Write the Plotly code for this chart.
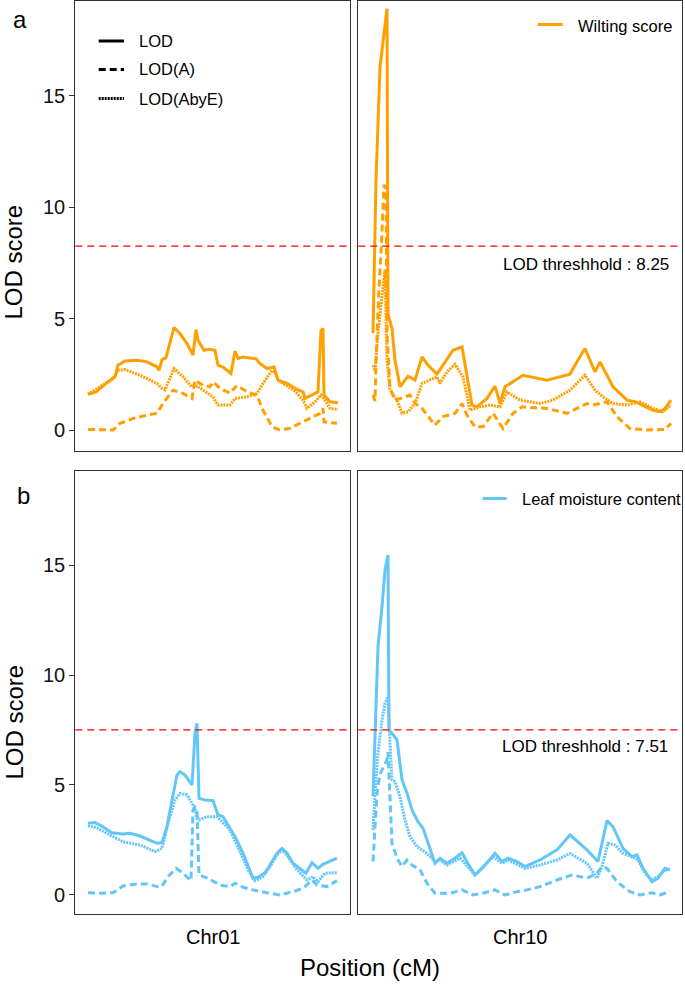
import plotly.graph_objects as go

W, H = 685, 990

# ---------------- data (position in cM, LOD scores) ----------------
# Panel a: Wilting score, Chr01
wilt_chr01_lod_cm = [0, 4, 9, 13.5, 15, 18.5, 24.5, 29.5, 34.5, 35.5, 37, 39, 43, 46, 49.5, 52.5, 54, 55, 58, 60.5, 63.5,
                     65, 67.5, 71.5, 73.5, 75, 77.5, 84, 86, 89.5, 93, 95, 99.5, 103.5, 107.5, 108.5, 115, 116.5, 117.5,
                     118, 121, 125]
wilt_chr01_lod = [1.60, 1.71, 2.09, 2.39, 2.91, 3.10, 3.13, 3.06, 2.83, 2.68, 3.16, 3.25, 4.60, 4.33, 3.88, 3.36, 4.50,
                  4.03, 3.58, 3.62, 3.58, 2.91, 2.83, 2.54, 3.55, 3.21, 3.28, 3.20, 2.98, 2.76, 2.83, 2.24, 2.09, 1.87,
                  1.71, 1.42, 1.71, 4.47, 4.55, 1.57, 1.27, 1.22]
wilt_chr01_a_cm = [0, 6, 12.5, 16, 22.5, 29.5, 34.5, 37.5, 42.5, 47.5, 52, 53.5, 57.5, 61, 62.5, 66, 71, 74.5, 79.5,
                   84.5, 87.5, 92, 96, 101, 107.5, 113.5, 116, 117.5, 118, 124.5]
wilt_chr01_a = [0.03, 0.00, 0.00, 0.30, 0.52, 0.67, 0.75, 1.19, 1.79, 1.64, 1.42, 2.24, 2.01, 1.94, 2.16, 1.87, 1.65,
                2.00, 1.72, 1.55, 0.89, 0.15, 0.00, 0.08, 0.37, 0.67, 0.75, 0.97, 0.37, 0.30]
wilt_chr01_ae_cm = [0, 12.5, 15, 18.5, 26, 34.5, 37, 38.5, 43, 47.5, 52, 54.5, 57.5, 62.5, 65, 71, 73.5, 79.5, 84.5,
                    87.5, 92, 93.5, 95, 103.5, 107.5, 109.5, 113.5, 116.5, 118.5, 121, 125]
wilt_chr01_ae = [1.60, 2.31, 2.68, 2.72, 2.46, 2.09, 1.87, 1.80, 2.76, 2.39, 1.94, 1.98, 1.79, 1.49, 1.12, 1.12, 1.42,
                 1.49, 1.64, 2.09, 2.68, 2.60, 2.24, 1.75, 1.34, 0.97, 1.27, 1.57, 1.34, 0.97, 0.92]

# Panel a: Wilting score, Chr10
wilt_chr10_lod_cm = [0, 1.5, 3.5, 6, 7, 7.5, 9.5, 11, 13.5, 17.5, 21, 24.5, 27.5, 32, 37, 40, 44.5, 49.5, 52, 57, 61,
                     63.5, 66, 70, 75, 87, 93.5, 98.5, 102, 106, 111, 113.5, 120, 127, 131, 140, 143.5, 146, 149]
wilt_chr10_lod = [4.34, 11.2, 16.3, 18.0, 18.9, 5.2, 4.55, 3.13, 1.94, 2.42, 2.24, 3.28, 2.91, 2.51, 3.20, 3.58, 3.73,
                  1.12, 1.04, 1.42, 1.97, 1.19, 1.94, 2.16, 2.46, 2.24, 2.39, 2.51, 3.06, 3.66, 2.61, 3.06, 1.94, 1.34,
                  1.27, 0.89, 0.82, 0.97, 1.34]
wilt_chr10_a_cm = [0, 1, 1.5, 2.7, 4.3, 5.5, 6.5, 7, 8.5, 11, 16, 18.5, 21, 24.5, 31, 35, 41, 44.5, 47, 51, 55, 60, 65,
                   70, 74.5, 87, 97, 107, 110, 117, 122, 128.5, 137, 146, 149]
wilt_chr10_a = [1.57, 1.30, 3.0, 5.8, 8.5, 11.0, 10.8, 4.3, 1.88, 1.34, 1.49, 1.57, 1.20, 0.97, 0.22, 0.60, 0.75, 1.19,
                0.67, 0.15, 0.15, 0.75, 0.07, 0.75, 1.04, 0.97, 0.75, 1.19, 1.12, 1.27, 0.60, 0.07, 0.00, 0.03, 0.30]
wilt_chr10_ae_cm = [0, 1, 2.5, 4.5, 6, 7, 8.5, 12, 14.5, 17.5, 21, 24.5, 32, 33.5, 37, 41, 45, 48.5, 53.5, 58.5, 63.5,
                    67, 73.5, 83.5, 90, 98.5, 106, 111, 115, 120, 127, 133.5, 140, 145, 149]
wilt_chr10_ae = [2.91, 2.68, 4.33, 5.82, 7.2, 3.13, 1.79, 1.34, 0.75, 0.82, 1.19, 2.09, 2.39, 2.09, 2.61, 2.95, 2.39,
                 0.89, 1.04, 1.12, 1.04, 1.71, 1.34, 1.19, 1.34, 1.79, 2.46, 1.79, 1.49, 1.19, 1.12, 1.27, 0.97, 0.82,
                 1.12]

# Panel b: Leaf moisture content, Chr01
leaf_chr01_lod_cm = [0, 3.5, 7.5, 12, 17.5, 21, 26, 31, 34.5, 37, 39.5, 42, 44.5, 46, 48.5, 52, 53.5, 54.5, 55.5, 58.5,
                     62.5, 65, 67.5, 70, 73.5, 77.5, 80, 82.5, 85, 88.5, 91, 94.5, 97, 99.5, 102.5, 106, 109, 112, 115,
                     117.5, 124.5]
leaf_chr01_lod = [3.26, 3.29, 3.10, 2.83, 2.77, 2.80, 2.68, 2.50, 2.35, 2.38, 3.10, 4.32, 5.45, 5.60, 5.45, 5.00, 7.35,
                  7.80, 4.39, 4.32, 4.29, 3.64, 3.56, 3.18, 2.65, 1.90, 1.29, 0.76, 0.80, 1.01, 1.36, 1.90, 2.12, 1.90,
                  1.44, 1.21, 0.99, 1.47, 1.21, 1.39, 1.67]
leaf_chr01_a_cm = [0, 6, 12.5, 17.5, 24.5, 29.5, 34.5, 37, 40, 44, 47.5, 51.5, 52.5, 53.5, 54.5, 55.5, 60, 66, 71, 73.5,
                   77.5, 82.5, 89.5, 96, 102.5, 107.5, 112, 114.5, 119.5, 124.5]
leaf_chr01_a = [0.10, 0.08, 0.10, 0.41, 0.50, 0.50, 0.38, 0.40, 0.83, 1.21, 0.99, 0.65, 3.86, 4.00, 3.90, 0.91, 0.76,
                0.45, 0.38, 0.53, 0.35, 0.23, 0.10, 0.00, 0.15, 0.30, 0.68, 0.45, 0.38, 0.65]
leaf_chr01_ae_cm = [0, 4.5, 11, 17.5, 26, 33.5, 37, 40, 43.5, 46, 49.5, 52, 53.5, 54.5, 55.5, 59.5, 64.5, 67, 71, 76, 80,
                    83.5, 87.5, 91, 94.5, 97, 100, 104.5, 109.5, 112.5, 115, 118.5, 124.5]
leaf_chr01_ae = [3.15, 3.05, 2.73, 2.42, 2.27, 1.97, 2.12, 3.26, 4.32, 4.62, 4.55, 4.17, 3.94, 3.48, 3.41, 3.56, 3.56,
                 3.33, 2.95, 1.97, 1.14, 0.65, 0.83, 1.29, 1.82, 2.05, 1.74, 1.14, 0.68, 0.83, 0.60, 0.99, 1.01]

# Panel b: Leaf moisture content, Chr10
leaf_chr10_lod_cm = [0, 2.5, 4.5, 6, 7.5, 8, 9.5, 12, 14.5, 17, 19.5, 22.5, 25, 28.5, 31, 33.5, 37, 41, 44.5, 47, 51,
                     54.5, 61, 64.5, 67.5, 72, 76, 83.5, 92, 98.5, 107, 112.5, 117, 120, 125, 129.5, 132, 135, 139.5,
                     142.5, 146, 148.5]
leaf_chr10_lod = [4.50, 11.29, 13.10, 14.77, 15.45, 7.50, 7.35, 7.05, 5.23, 4.62, 3.86, 3.33, 3.03, 2.05, 1.44, 1.67,
                  1.44, 1.67, 1.92, 1.50, 0.91, 1.20, 1.89, 1.52, 1.67, 1.52, 1.29, 1.59, 2.05, 2.73, 2.05, 1.52, 3.38,
                  3.10, 2.12, 1.74, 1.82, 1.21, 0.60, 0.76, 1.21, 1.14]
leaf_chr10_a_cm = [0, 2, 3.5, 7, 7.5, 8.5, 9.5, 12, 14.5, 17, 19.5, 23.5, 27, 31, 38.5, 44.5, 50, 55, 61, 66, 72, 77,
                   83.5, 92, 99.5, 107, 112, 114.5, 117, 122, 128.5, 133.5, 139.5, 143.5, 148.5]
leaf_chr10_a = [1.52, 4.62, 5.50, 6.14, 6.50, 4.62, 2.35, 1.67, 1.29, 1.59, 1.36, 1.14, 0.53, 0.08, 0.08, 0.23, 0.00,
                0.08, 0.23, 0.00, 0.15, 0.23, 0.38, 0.68, 0.91, 0.76, 0.99, 1.29, 1.21, 0.60, 0.15, 0.00, 0.10, 0.00,
                0.15]
leaf_chr10_ae_cm = [0, 1, 2.5, 4.5, 6, 7.5, 8.5, 9.5, 11, 13.5, 16, 18.5, 22, 27, 31, 33.5, 37, 43.5, 51, 60, 64.5, 67.5,
                    76, 83.5, 92, 98.5, 107, 112, 114.5, 117.5, 121, 125, 129.5, 132.5, 136, 139.5, 142.5, 146, 148.5]
leaf_chr10_ae = [2.95, 4.62, 6.44, 7.95, 8.71, 9.00, 6.89, 5.23, 5.15, 4.47, 3.41, 2.65, 2.20, 1.89, 1.52, 1.59, 1.36,
                 1.67, 0.91, 1.74, 1.44, 1.59, 1.21, 1.36, 1.59, 1.89, 1.44, 0.76, 1.29, 2.35, 2.27, 1.89, 1.74, 1.59,
                 0.99, 0.68, 0.83, 1.14, 1.14]

thresholds = [8.25, 7.51]
chromosomes = ["Chr01", "Chr10"]
traits = ["Wilting score", "Leaf moisture content"]
series_names = ["LOD", "LOD(A)", "LOD(AbyE)"]

# ---------------- style ----------------
ORANGE = "#FFA000"
BLUE = "#62C6F8"
FONT = "Liberation Sans, Arial, Helvetica, sans-serif"
DASHES = ["solid", "7px,4px", "2px,1px"]
LW = 3


def px_x(p):
    return p / W


def px_y(p):
    return 1 - p / H


fig = go.Figure()

panels = [
    ("x", "y", ORANGE, [(wilt_chr01_lod_cm, wilt_chr01_lod), (wilt_chr01_a_cm, wilt_chr01_a), (wilt_chr01_ae_cm, wilt_chr01_ae)]),
    ("x2", "y2", ORANGE, [(wilt_chr10_lod_cm, wilt_chr10_lod), (wilt_chr10_a_cm, wilt_chr10_a), (wilt_chr10_ae_cm, wilt_chr10_ae)]),
    ("x3", "y3", BLUE, [(leaf_chr01_lod_cm, leaf_chr01_lod), (leaf_chr01_a_cm, leaf_chr01_a), (leaf_chr01_ae_cm, leaf_chr01_ae)]),
    ("x4", "y4", BLUE, [(leaf_chr10_lod_cm, leaf_chr10_lod), (leaf_chr10_a_cm, leaf_chr10_a), (leaf_chr10_ae_cm, leaf_chr10_ae)]),
]

for xa, ya, col, series in panels:
    # draw dotted & dashed first, solid on top
    for k in [2, 1, 0]:
        xs, ys = series[k]
        fig.add_trace(go.Scatter(x=xs, y=ys, mode="lines", xaxis=xa, yaxis=ya,
                                 name=series_names[k], showlegend=False, hoverinfo="skip",
                                 line=dict(color=col, width=LW, dash=DASHES[k])))

# ---------------- axes ----------------
x_dom_left = [px_x(75.3), px_x(350.0)]
x_dom_right = [px_x(358.3), px_x(681.7)]
y_dom_top = [px_y(451.0), px_y(1.0)]
y_dom_bot = [px_y(914.3), px_y(470.7)]

x_range_left = [-6.35, 131.0]
x_range_right = [-7.35, 154.35]
y_range_top = [-0.94, 19.25]
y_range_bot = [-0.88, 19.29]

frame = dict(showline=True, mirror=True, linecolor="#333333", linewidth=1.3, showgrid=False, zeroline=False)

xcommon = dict(frame, showticklabels=False, ticks="")
fig.update_layout(
    xaxis=dict(xcommon, domain=x_dom_left, range=x_range_left, anchor="y"),
    xaxis2=dict(xcommon, domain=x_dom_right, range=x_range_right, anchor="y2"),
    xaxis3=dict(xcommon, domain=x_dom_left, range=x_range_left, anchor="y3"),
    xaxis4=dict(xcommon, domain=x_dom_right, range=x_range_right, anchor="y4"),
)

yleft = dict(frame, ticks="outside", ticklen=5, tickwidth=1.2, tickcolor="#333333",
             tickvals=[0, 5, 10, 15], ticktext=["0", "5", "10", "15"],
             tickfont=dict(family=FONT, size=20, color="#111111"))
yright = dict(frame, showticklabels=False, ticks="")
fig.update_layout(
    yaxis=dict(yleft, domain=y_dom_top, range=y_range_top, anchor="x"),
    yaxis2=dict(yright, domain=y_dom_top, range=y_range_top, anchor="x2"),
    yaxis3=dict(yleft, domain=y_dom_bot, range=y_range_bot, anchor="x3"),
    yaxis4=dict(yright, domain=y_dom_bot, range=y_range_bot, anchor="x4"),
)

# ---------------- threshold lines ----------------
for (xa, ya), thr in [(("x", "y"), thresholds[0]), (("x2", "y2"), thresholds[0]),
                      (("x3", "y3"), thresholds[1]), (("x4", "y4"), thresholds[1])]:
    fig.add_shape(type="line", xref=f"{xa} domain", yref=ya, x0=0, x1=1, y0=thr, y1=thr,
                  line=dict(color="#FF0000", width=1.2, dash="7px,5px"), layer="above")

annotations = []


def text(x, y, s, size, xanchor="left", yanchor="middle", textangle=0):
    annotations.append(dict(x=px_x(x), y=px_y(y), xref="paper", yref="paper", text=s, showarrow=False,
                            xanchor=xanchor, yanchor=yanchor, textangle=textangle,
                            font=dict(family=FONT, size=size, color="#000000")))


# threshold labels
text(671, 264.5, f"LOD threshhold : {thresholds[0]:.2f}", 17, xanchor="right")
text(670, 746.5, f"LOD threshhold : {thresholds[1]:.2f}", 17, xanchor="right")

# panel tags
text(20, 19, "a", 24, xanchor="center")
text(23.5, 495, "b", 24, xanchor="center")

# y-axis titles
text(13.5, 262, "LOD score", 24, xanchor="center", textangle=-90)
text(13.5, 722, "LOD score", 24, xanchor="center", textangle=-90)

# chromosome labels & x title
text((75.3 + 350.0) / 2, 936.5, chromosomes[0], 20, xanchor="center")
text((358.3 + 681.7) / 2, 936.5, chromosomes[1], 20, xanchor="center")
text(370, 967.5, "Position (cM)", 24, xanchor="center")

# line-type legend (top-left)
for i, (yy, dsh) in enumerate(zip([41.0, 69.5, 98.5], DASHES)):
    fig.add_shape(type="line", xref="paper", yref="paper", x0=px_x(98.7), x1=px_x(124), y0=px_y(yy), y1=px_y(yy),
                  line=dict(color="#000000", width=LW, dash=dsh))
    text(137.3, yy, series_names[i], 16.5)

# trait legends
fig.add_shape(type="line", xref="paper", yref="paper", x0=px_x(537.7), x1=px_x(562.7), y0=px_y(24.5), y1=px_y(24.5),
              line=dict(color=ORANGE, width=LW))
text(576, 25.5, traits[0], 16.5)
fig.add_shape(type="line", xref="paper", yref="paper", x0=px_x(482.7), x1=px_x(506.7), y0=px_y(498.5), y1=px_y(498.5),
              line=dict(color=BLUE, width=LW))
text(520, 499, traits[1], 16.5)

fig.update_layout(
    width=W, height=H,
    margin=dict(l=0, r=0, t=0, b=0),
    paper_bgcolor="white", plot_bgcolor="white",
    showlegend=False,
    annotations=annotations,
    font=dict(family=FONT),
)

fig.write_html("out.html", config={"displayModeBar": False},
               post_script="document.body.style.margin='0px';document.body.style.overflow='hidden';")
